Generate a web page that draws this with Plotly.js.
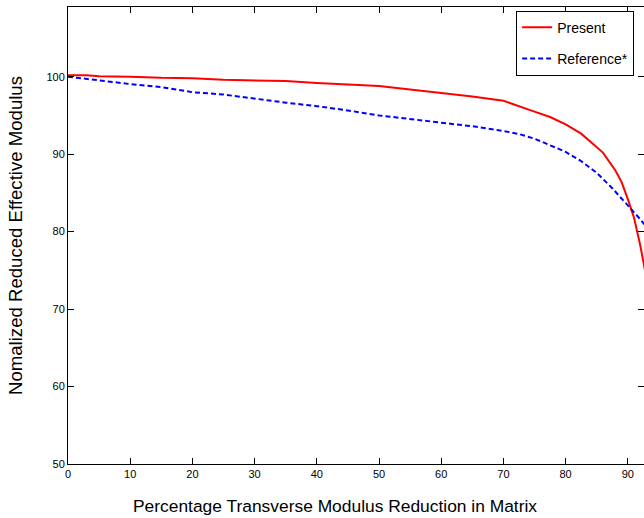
<!DOCTYPE html>
<html>
<head>
<meta charset="utf-8">
<script src="https://cdn.plot.ly/plotly-3.0.1.min.js"></script>
<style>html,body{margin:0;padding:0;background:#fff;}#chart{width:644px;height:518px;}</style>
</head>
<body>
<div id="chart"></div>
<script>
const presentX = [0, 3, 5, 10, 15, 20, 25, 30, 35, 40, 45, 50, 55, 60, 65, 70, 72.5, 75, 77.5, 80, 82.5, 84, 86, 88, 89, 90, 91, 92, 92.6, 93];
const presentY = [100.2, 100.2, 100.05, 100, 99.85, 99.8, 99.6, 99.5, 99.45, 99.2, 99.0, 98.8, 98.35, 97.9, 97.45, 96.9, 96.15, 95.5, 94.8, 93.85, 92.65, 91.6, 90.2, 87.9, 86.4, 84.2, 81.8, 78.2, 75.5, 74.0];
const referenceX = [0, 5, 10, 15, 20, 25, 30, 35, 40, 45, 50, 55, 60, 65, 70, 72.5, 75, 77.5, 80, 82.5, 85, 87.5, 90, 91, 92, 93];
const referenceY = [100, 99.5, 99.05, 98.65, 98.0, 97.7, 97.15, 96.65, 96.2, 95.65, 95.0, 94.55, 94.1, 93.6, 93.0, 92.6, 92.0, 91.2, 90.3, 89.1, 87.6, 85.6, 83.4, 82.4, 81.6, 80.6];
const xTicks = [0, 10, 20, 30, 40, 50, 60, 70, 80, 90];
const yTicks = [50, 60, 70, 80, 90, 100];
const xTitle = 'Percentage Transverse Modulus Reduction in Matrix';
const yTitle = 'Nomalized Reduced Effective Modulus';

const traces = [
  {x: presentX, y: presentY, type: 'scatter', mode: 'lines', name: 'Present', legendgroup: 'a',
   line: {color: '#ff0000', width: 2}},
  {x: referenceX, y: referenceY, type: 'scatter', mode: 'lines', name: 'Reference*', legendgroup: 'b',
   line: {color: '#0000ff', width: 2, dash: '5px,3px'}}
];

const axisCommon = {
  showgrid: false, zeroline: false, showline: true, linecolor: '#000', linewidth: 1,
  mirror: 'ticks', ticks: 'inside', ticklen: 6, tickcolor: '#000', tickwidth: 1,
  tickfont: {family: 'Liberation Sans, Arial, sans-serif', size: 11, color: '#000'}
};

const layout = {
  width: 644, height: 518,
  margin: {l: 68, r: 0, t: 7, b: 54},
  paper_bgcolor: '#fff', plot_bgcolor: '#fff',
  font: {family: 'Liberation Sans, Arial, sans-serif', color: '#000'},
  xaxis: Object.assign({}, axisCommon, {
    range: [0, 92.6], tickvals: xTicks, ticktext: xTicks.map(String)
  }),
  yaxis: Object.assign({}, axisCommon, {
    range: [50, 109], tickvals: yTicks, ticktext: yTicks.map(String),
    title: {text: yTitle, font: {size: 18.6, color: '#000'}, standoff: 18}
  }),
  annotations: [{
    text: xTitle, xref: 'paper', yref: 'paper', x: 0.4635, y: -0.0919,
    xanchor: 'center', yanchor: 'middle', showarrow: false,
    font: {size: 17.4, color: '#000'}
  }],
  showlegend: true,
  legend: {
    x: 0.778, xanchor: 'left', y: 0.992, yanchor: 'top',
    bgcolor: '#fff', bordercolor: '#000', borderwidth: 1,
    font: {size: 14, color: '#000'}, traceorder: 'grouped', tracegroupgap: 10
  }
};

Plotly.newPlot('chart', traces, layout, {staticPlot: true, displayModeBar: false});
</script>
</body>
</html>
